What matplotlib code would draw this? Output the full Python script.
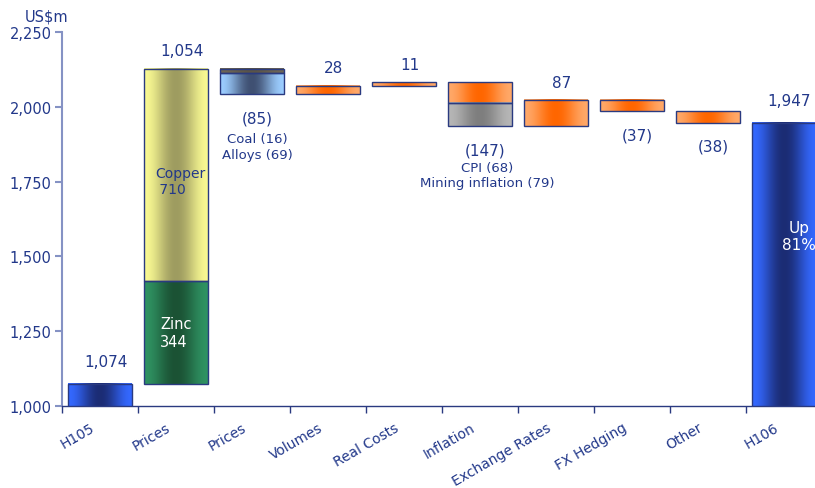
import numpy as np
import matplotlib
matplotlib.use('Agg')
import matplotlib.pyplot as plt
from matplotlib.patches import Rectangle
from matplotlib.ticker import FuncFormatter, FixedLocator

# Waterfall steps from H105 to H106 earnings (US$m)
steps = ['H105', 'Prices', 'Prices', 'Volumes', 'Real Costs', 'Inflation',
         'Exchange Rates', 'FX Hedging', 'Other', 'H106']
# components stacked inside each step
step_parts = [[1074], [344, 710], [-16, -69], [28], [11], [-68, -79],
              [87], [-37], [-38], [1947]]
step_labels = ['1,074', '1,054', '(85)', '28', '11', '(147)', '87', '(37)', '(38)', '1,947']
is_total = [True, False, False, False, False, False, False, False, False, True]

# fill styles for each component: (edge colour, centre colour)
styles = {
    'blue': ('#3468FF', '#1B2C74'),
    'green': ('#2F9262', '#1B5234'),
    'yellow': ('#F8F892', '#9E9C60'),
    'coal': ('#6E6656', '#5A5448'),
    'ltblue': ('#9CCDFF', '#3F5072'),
    'orange': ('#FFA868', '#FF6600'),
    'grey': ('#B6B6B6', '#7E7E7E'),
}
part_styles = [['blue'], ['green', 'yellow'], ['coal', 'ltblue'], ['orange'], ['orange'],
               ['orange', 'grey'], ['orange'], ['orange'], ['orange'], ['blue']]

TEXT = '#22388A'
EDGE = '#2A3A80'
WIDTH = 0.84


def shade(ax, x0, x1, y0, y1, style):
    edge, centre = [np.array(matplotlib.colors.to_rgb(c)) for c in styles[style]]
    t = np.linspace(0, 1, 128)
    f = np.sin(np.pi * t) ** 2
    rgb = edge + (centre - edge) * f[:, None]
    ax.imshow(rgb[None, :, :], extent=(x0, x1, min(y0, y1), max(y0, y1)),
              aspect='auto', interpolation='bilinear', zorder=2)
    ax.add_patch(Rectangle((x0, min(y0, y1)), x1 - x0, abs(y1 - y0),
                           fill=False, ec=EDGE, lw=1, zorder=3))


plt.rcParams['font.family'] = 'DejaVu Sans'
fig = plt.figure(figsize=(8.15, 4.89), dpi=100)
ax = fig.add_axes([62 / 815, 82 / 489, 1 - 62 / 815, 374 / 489])

level = 0
tops = []
bottoms = []
for i, parts in enumerate(step_parts):
    x0, x1 = i - WIDTH / 2, i + WIDTH / 2
    base = 0 if is_total[i] else level
    start = base
    for value, style in zip(parts, part_styles[i]):
        shade(ax, x0, x1, start, start + value, style)
        start += value
    level = start
    tops.append(max(base, start))
    bottoms.append(min(base, start))

# value labels above rises and totals, below falls
for i, text in enumerate(step_labels):
    falling = sum(step_parts[i]) < 0
    if falling:
        ax.annotate(text, (i, bottoms[i]), xytext=(4, -17), textcoords='offset points',
                    ha='center', va='center', fontsize=11, color=TEXT)
    else:
        dy = 16 if is_total[i] else 13
        ax.annotate(text, (i, tops[i]), xytext=(4, dy), textcoords='offset points',
                    ha='center', va='center', fontsize=11, color=TEXT)

# breakdown notes
ax.annotate('Coal (16)\nAlloys (69)', (2, bottoms[2]), xytext=(4, -38),
            textcoords='offset points', ha='center', va='center', fontsize=9.5,
            color=TEXT, linespacing=1.25)
ax.annotate('CPI (68)\nMining inflation (79)', (5, bottoms[5]), xytext=(5, -35),
            textcoords='offset points', ha='center', va='center', fontsize=9.5,
            color=TEXT, linespacing=1.25)

zinc, copper = step_parts[1]
ax.text(1.06, tops[0] + zinc + copper / 2 - 20, 'Copper\n 710', ha='center', va='center',
        fontsize=10, color=TEXT, multialignment='left', zorder=4)
ax.text(1, tops[0] + zinc / 2, 'Zinc\n344', ha='center', va='center',
        fontsize=10.5, color='white', multialignment='left', zorder=4)
ax.text(9.2, 1000 + (tops[9] - 1000) * 0.6, 'Up\n81%', ha='center', va='center',
        fontsize=11, color='white', zorder=4)

fig.text(47 / 815, 1 - 17 / 489, 'US$m', ha='center', va='center', fontsize=10.5, color=TEXT)

ax.set_xlim(-0.5, 9.41)
ax.set_ylim(1000, 2250)
ax.set_yticks([1000, 1250, 1500, 1750, 2000, 2250])
ax.yaxis.set_major_formatter(FuncFormatter(lambda v, p: f'{v:,.0f}'))
# labels sit slightly left of each step centre; the marks are on the minor ticks
ax.set_xticks(np.arange(len(steps)) - 0.13)
ax.set_xticklabels(steps, rotation=30, ha='right', rotation_mode='anchor')
ax.xaxis.set_minor_locator(FixedLocator(np.arange(-0.5, 9, 1)))
ax.tick_params(axis='x', which='major', length=0, pad=10, labelsize=10, labelcolor=TEXT)
ax.tick_params(axis='x', which='minor', length=5, width=1, color=EDGE)
ax.tick_params(axis='y', length=5, width=1.5, color='#8592C4', pad=2.5,
               labelsize=10.5, labelcolor=TEXT)

for side in ['top', 'right']:
    ax.spines[side].set_visible(False)
ax.spines['left'].set_color('#8592C4')
ax.spines['left'].set_linewidth(1.5)
ax.spines['bottom'].set_color(EDGE)
ax.spines['bottom'].set_linewidth(1)

fig.savefig('out.png', dpi=100)
